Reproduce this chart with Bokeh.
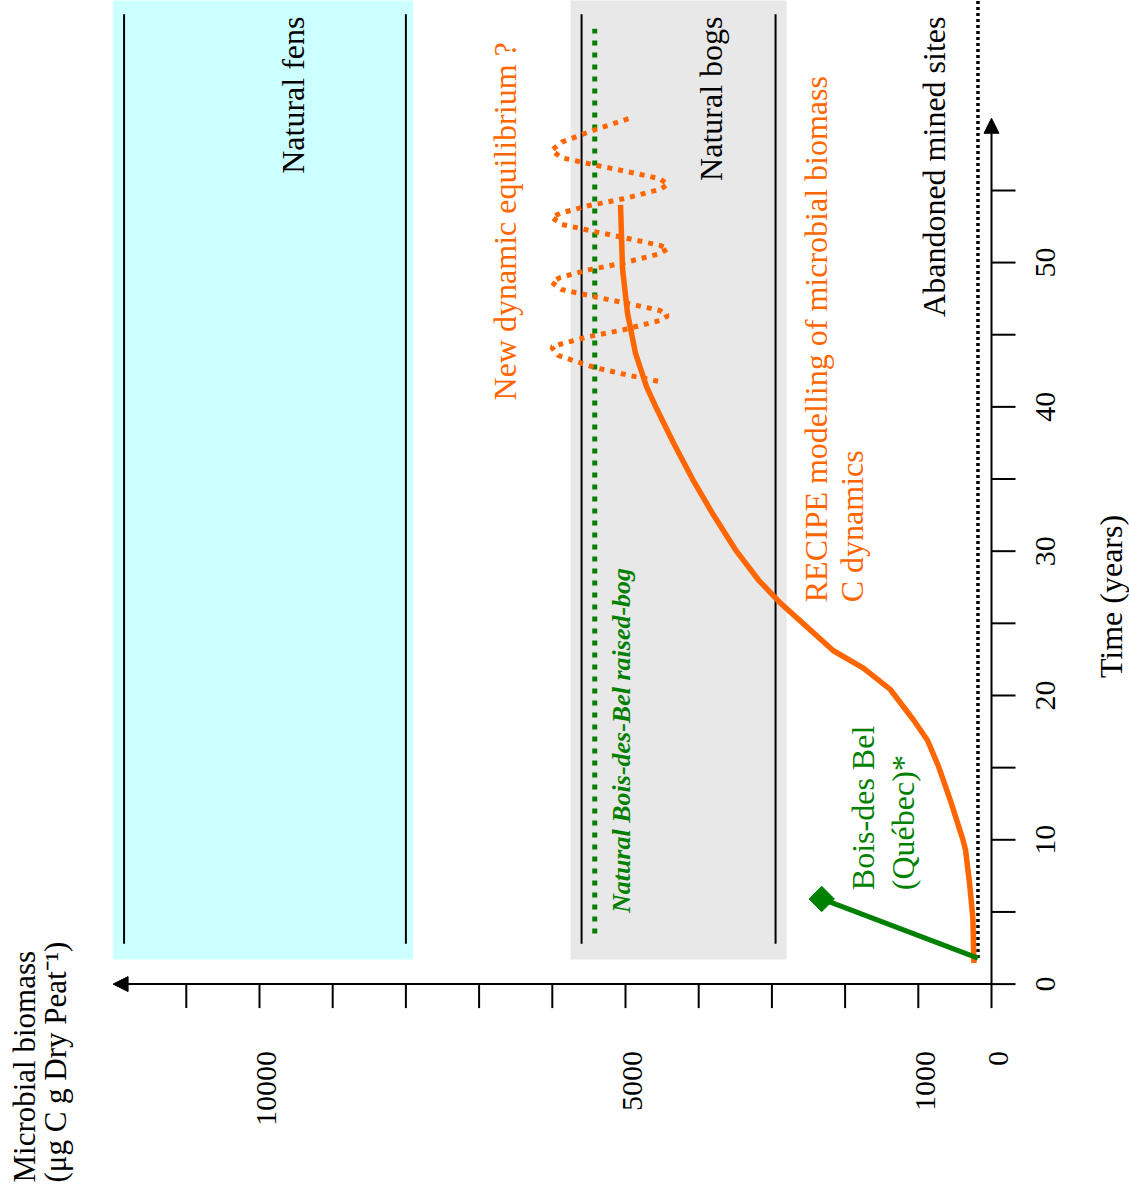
import math
from bokeh.plotting import figure
from bokeh.models import Range1d, Arrow, NormalHead, Label
from bokeh.embed import file_html
from bokeh.resources import INLINE

FONT = "Liberation Serif"
ORANGE = "#FF6600"
GREEN = "#008000"

# ---- data (biomass in ug C g-1 dry peat, time in years) ----
fens_box_b = [7900, 12000]
fens_range_b = [8000, 11850]
bogs_box_b = [2800, 5750]
bogs_range_b = [2950, 5600]
box_t = [1.7, 70]
range_t = [2.8, 67.2]

natural_bdb_b = 5420
natural_bdb_t = [3.5, 66.2]

abandoned_b = 185
abandoned_t = [1.8, 70]

# Bois-des-Bel (Quebec) observation
bdb_t = [1.8, 5.9]
bdb_b = [185, 2320]

# RECIPE modelled microbial biomass C
recipe_t = [1.45, 4.6, 7.0, 9.3, 10.1, 12.7, 15.1, 16.9, 18.3, 20.4, 21.9, 23.1,
            26.4, 28.0, 30.0, 32.5, 35.0, 37.5, 39.9, 41.4, 43.7, 46.5, 49.6, 54.0]
recipe_b = [240, 255, 300, 355, 396, 560, 725, 875, 1065, 1380, 1750, 2160,
            2883, 3183, 3484, 3798, 4085, 4344, 4577, 4713, 4863, 4973, 5041, 5068]

# New dynamic equilibrium (oscillation)
eq_t = [59.97, 59.2, 58.35, 57.77, 57.26, 56.73, 56.24, 55.81, 55.41, 55.07, 54.42,
        53.94, 53.42, 53.15, 52.64, 52.11, 51.62, 51.19, 50.96, 50.62, 49.97, 49.49,
        48.97, 48.64, 48.13, 47.60, 47.11, 46.68, 46.33, 45.99, 45.34, 44.86, 44.34,
        44.14, 43.56, 42.75, 42.2, 41.71]
eq_b = [4960, 5420, 5870, 6010, 5870, 5390, 4920, 4530, 4420, 4530, 5030,
        5510, 5890, 6010, 5870, 5390, 4920, 4530, 4420, 4530, 5030, 5510,
        5890, 6010, 5870, 5390, 4920, 4530, 4420, 4530, 5030, 5510, 5890,
        6010, 5920, 5440, 4970, 4490]

time_ticks = [0, 5, 10, 15, 20, 25, 30, 35, 40, 45, 50, 55]
time_tick_labels = {0: "0", 10: "10", 20: "20", 30: "30", 40: "40", 50: "50"}
biomass_ticks = [0, 1000, 2000, 3000, 4000, 5000, 6000, 7000, 8000, 9000, 10000, 11000]
biomass_tick_labels = {0: "0", 1000: "1000", 5000: "5000", 10000: "10000"}
axis_max_t = 60
axis_max_b = 12000

# ---- figure: the frame fills the canvas, axes drawn as arrows + ticks ----
W, H = 1129, 1194
X0, X1 = 13538, -1885      # biomass at left / right canvas edge (reversed axis)
Y0, Y1 = -14.58, 68.16     # time at bottom / top canvas edge
BPX = (X0 - X1) / W        # biomass units per pixel
TPX = (Y1 - Y0) / H        # years per pixel

p = figure(width=W, height=H, x_range=Range1d(X0, X1), y_range=Range1d(Y0, Y1),
           x_axis_location=None, y_axis_location=None,
           output_backend="svg", toolbar_location=None,
           min_border=0, min_border_left=0, min_border_right=0,
           min_border_top=0, min_border_bottom=0)
p.grid.visible = False
p.outline_line_color = None
p.background_fill_color = "white"
p.border_fill_color = "white"

# boxes
p.quad(left=fens_box_b[0], right=fens_box_b[1], bottom=box_t[0], top=box_t[1],
       fill_color="#CCFFFF", line_color=None)
p.quad(left=bogs_box_b[0], right=bogs_box_b[1], bottom=box_t[0], top=box_t[1],
       fill_color="#E8E8E8", line_color=None)
for b in fens_range_b + bogs_range_b:
    p.segment(x0=b, y0=range_t[0], x1=b, y1=range_t[1], line_color="black", line_width=2)

# natural Bois-des-Bel
p.line([natural_bdb_b, natural_bdb_b], natural_bdb_t, line_color=GREEN,
       line_width=5, line_dash="5 7")
# abandoned mined sites
p.line([abandoned_b, abandoned_b], abandoned_t, line_color="black",
       line_width=3.5, line_dash="3 3")

# RECIPE curve
p.line(recipe_b, recipe_t, line_color=ORANGE, line_width=5.5, line_join="round")
# new equilibrium
p.line(eq_b, eq_t, line_color=ORANGE, line_width=5, line_dash="5 6")

# Bois-des-Bel observation
p.line(bdb_b, bdb_t, line_color=GREEN, line_width=5)
p.scatter([bdb_b[-1]], [bdb_t[-1]], marker="square", size=18, angle=math.pi / 4,
          fill_color=GREEN, line_color=GREEN)

# ---- axes ----
TICK = 24  # px
p.segment(x0=[0] * len(time_ticks), y0=time_ticks,
          x1=[-TICK * BPX] * len(time_ticks), y1=time_ticks,
          line_color="black", line_width=2)
p.segment(x0=biomass_ticks, y0=[0] * len(biomass_ticks),
          x1=biomass_ticks, y1=[-TICK * TPX] * len(biomass_ticks),
          line_color="black", line_width=2)

head = dict(size=15, fill_color="black", line_color="black")
p.add_layout(Arrow(end=NormalHead(**head), x_start=0, y_start=0, x_end=0, y_end=axis_max_t,
                   line_width=2, line_color="black"))
p.add_layout(Arrow(end=NormalHead(**head), x_start=0, y_start=0, x_end=axis_max_b, y_end=0,
                   line_width=2, line_color="black"))


def lab(text, x, y, color="black", align="left", size="32px", style="normal", x_offset=-10):
    p.add_layout(Label(x=x, y=y, text=text, angle=math.pi / 2, text_font=FONT,
                       text_font_size=size, text_color=color, text_align=align,
                       text_baseline="alphabetic", text_font_style=style,
                       x_offset=x_offset))


# tick labels
for t, s in time_tick_labels.items():
    lab(s, -64 * BPX, t, align="center", size="30px")
for b, s in biomass_tick_labels.items():
    lab(s, b, -67 * TPX, align="right", size="30px", x_offset=7)

# texts
lab("Natural fens", 9358, 67.05, align="right", x_offset=-13)
lab("Natural bogs", 3730, 67.05, align="right", x_offset=-7)
lab("Abandoned mined sites", 628, 67.05, align="right", x_offset=-12)
lab("New dynamic equilibrium ?", 6530, 40.45, color=ORANGE, x_offset=-9)
lab("RECIPE modelling of microbial biomass", 2254, 26.46, color=ORANGE, x_offset=-11)
lab("C dynamics", 1776, 26.46, color=ORANGE, x_offset=-10)
lab("Natural Bois-des-Bel raised-bog", 4959, 4.92, color=GREEN, size="26px",
    style="bold italic", x_offset=-7)
lab("Bois-des Bel", 1612, 6.51, color=GREEN, x_offset=-11)
lab("(Québec)*", 1052, 6.51, color=GREEN, x_offset=-12)
lab("Time (years)", -1790, 26.86, align="center", x_offset=-12)
lab("Microbial biomass", 13080, -13.75, size="31px")
lab("(μg C g Dry Peat⁻¹)", 12650, -13.75, size="31px")

open("out.html", "w").write(file_html(p, INLINE))
